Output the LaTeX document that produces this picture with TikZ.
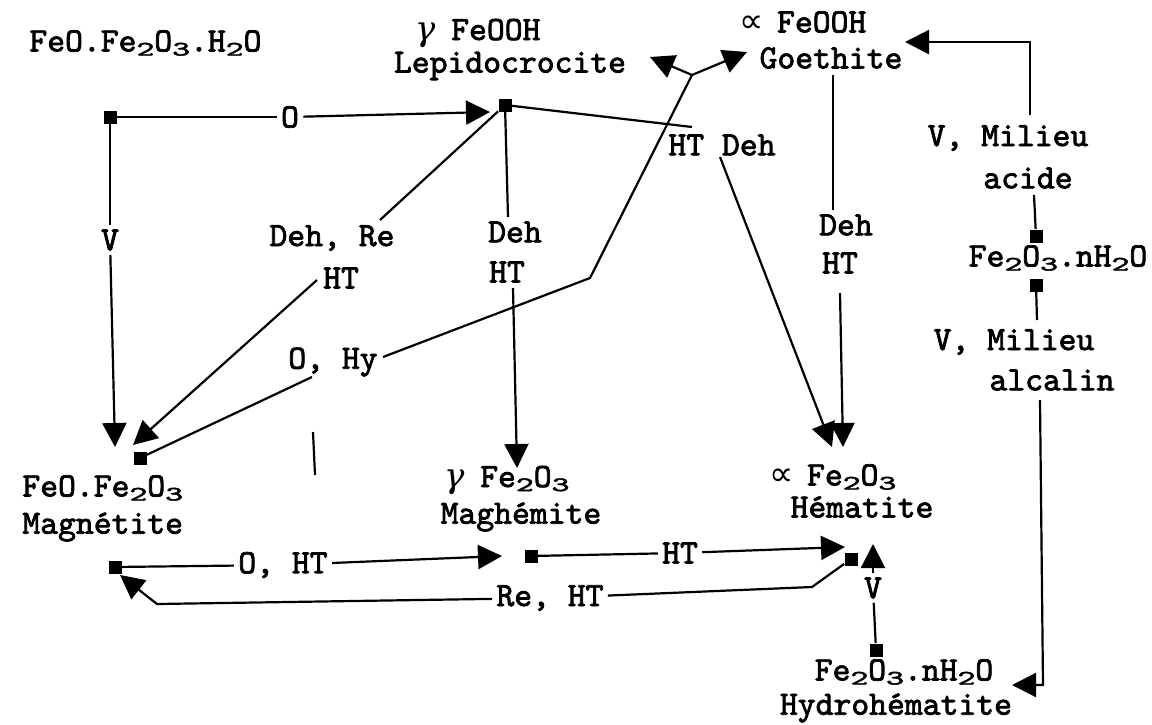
\documentclass[tikz,border=0pt]{standalone}
\usepackage{fontspec}
\usepackage{graphicx}
\newfontfamily\labfont{lmmono10-regular.otf}[FakeBold=2.2]
\newfontfamily\symfont{DejaVu Sans}
\newfontfamily\grkfont{DejaVu Serif}
\usetikzlibrary{arrows.meta,calc}
\newcommand{\dn}[1]{\raisebox{-0.12em}{\scalebox{1}[0.6]{#1}}}
\newcommand{\gam}{\makebox[1.05em][l]{{\grkfont\mdseries\itshape γ}}}
\newcommand{\alp}{\makebox[1.1em][l]{{\symfont\mdseries ∝}}}
\tikzset{
  ln/.style={line width=1.1pt},
  arr/.style={ln,-{Triangle[length=12pt,width=12pt]}},
  sq/.style={fill=black, draw=none, minimum size=6.5pt, inner sep=0pt},
  lab/.style={font=\labfont\bfseries\fontsize{17pt}{20pt}\selectfont, inner sep=2pt},
}
\begin{document}
\begin{tikzpicture}[x=0.5pt,y=-0.5pt]
\fill[white] (0,0) rectangle (1152,724);
\useasboundingbox (0,0) rectangle (1152,724);
% species
\node[lab,anchor=west] (t1) at (25,43) {FeO.Fe\dn{2}O\dn{3}.H\dn{2}O};
\node[lab] (lep1) at (478,33) {\gam FeOOH};
\node[lab] (lep2) at (510,66) {Lepidocrocite};
\node[lab] (goe1) at (803,22) {\alp FeOOH};
\node[lab] (goe2) at (831,58) {Goethite};
\node[lab] (va1) at (1008,138) {V, Milieu};
\node[lab] (va2) at (1028,178) {acide};
\node[lab] (fe1) at (1058,258) {Fe\dn{2}O\dn{3}.nH\dn{2}O};
\node[lab] (vb1) at (1014,342) {V, Milieu};
\node[lab] (vb2) at (1052,380) {alcalin};
\node[lab,anchor=west] (mag1) at (18,488) {FeO.Fe\dn{2}O\dn{3}};
\node[lab,anchor=west] (mag2) at (18,527) {Magnétite};
\node[lab] (mgh1) at (507,480) {\gam Fe\dn{2}O\dn{3}};
\node[lab] (mgh2) at (521,517) {Maghémite};
\node[lab] (hem1) at (833,477) {\alp Fe\dn{2}O\dn{3}};
\node[lab] (hem2) at (862,507) {Hématite};
\node[lab] (hyd1) at (904,672) {Fe\dn{2}O\dn{3}.nH\dn{2}O};
\node[lab] (hyd2) at (896,708) {Hydrohématite};
% connector labels
\node[lab] (eO) at (290,117) {O};
\node[lab] (eV1) at (110,240) {V};
\node[lab] (eDR) at (332,238) {Deh, Re};
\node[lab] (eHT1) at (341,278) {HT};
\node[lab] (eDeh1) at (515,232) {Deh};
\node[lab] (eHT2) at (507,272) {HT};
\node[lab] (eHD) at (722,145) {HT Deh};
\node[lab] (eOHy) at (333,362) {O, Hy};
\node[lab] (eDeh2) at (846,225) {Deh};
\node[lab] (eHT3) at (840,263) {HT};
\node[lab] (eOHT) at (283,565) {O, HT};
\node[lab] (eHT4) at (680,553) {HT};
\node[lab] (eReHT) at (550,598) {Re, HT};
\node[lab] (eV2) at (873,588) {V};
% squares
\node[sq] (s1) at (110,117) {};
\node[sq] (sL) at (505,105) {};
\node[sq] (sM) at (140,458) {};
\node[sq] (sF1) at (1036,236) {};
\node[sq] (sF2) at (1036,285) {};
\node[sq] (sMag) at (115,567) {};
\node[sq] (sMgh) at (531,556) {};
\node[sq] (sHem) at (851,559) {};
\node[sq] (sHyd) at (876,650) {};
% tips
\coordinate (tLep) at (490,112);
\coordinate (tMagV) at (115,447);
\coordinate (tMagD) at (133,445);
\coordinate (tMgh) at (517,468);
\coordinate (tHem1) at (832,447);
\coordinate (tHem2) at (843,447);
\coordinate (fork) at (692,75);
\coordinate (tF1) at (650,57);
\coordinate (tF2) at (747,52);
\coordinate (tGoe) at (905,42);
\coordinate (tHyd) at (1012,685);
\coordinate (tMgh2) at (502,556);
\coordinate (tHem3) at (845,547);
\coordinate (tMag3) at (120,575);
\coordinate (tHem4) at (873,544);
% bends
\coordinate (bA1) at (380,220);
\coordinate (bA2) at (317,280);
\coordinate (bD1) at (508,217);
\coordinate (bD2) at (513,288);
\coordinate (bE1) at (692,127);
\coordinate (bE2) at (720,157);
\coordinate (bF1) at (312,377);
\coordinate (bF2) at (383,357);
\coordinate (bF3) at (590,278);
\coordinate (bG1) at (833,75);
\coordinate (bG2) at (833,210);
\coordinate (bG3) at (840,293);
\coordinate (bH1) at (1030,115);
\coordinate (bH2) at (1030,42);
\coordinate (bH3) at (1034,195);
\coordinate (bI1) at (1037,320);
\coordinate (bI2) at (1040,400);
\coordinate (bI3) at (1043,685);
\coordinate (bL1) at (812,587);
\coordinate (bL2) at (157,604);
% connectors
\draw[ln] (s1) -- (eO);
\draw[arr] (eO) -- (tLep);
\draw[ln] (s1) -- (eV1);
\draw[arr] (eV1) -- (tMagV);
\draw[ln] (sL) -- (bA1);
\draw[arr] (bA2) -- (tMagD);
\draw[ln] (sL) -- (bD1);
\draw[arr] (bD2) -- (tMgh);
\draw[ln] (sL) -- (bE1);
\draw[arr] (bE2) -- (tHem1);
\draw[ln] (sM) -- (bF1);
\draw[ln] (bF2) -- (bF3) -- (fork);
\draw[arr] (fork) -- (tF1);
\draw[arr] (fork) -- (tF2);
\draw[ln] (bG1) -- (bG2);
\draw[arr] (bG3) -- (tHem2);
\draw[ln] (sF1) -- (bH3);
\draw[arr] (bH1) -- (bH2) -- (tGoe);
\draw[ln] (sF2) -- (bI1);
\draw[arr] (bI2) -- (bI3) -- (tHyd);
\draw[ln] (sMag) -- (eOHT);
\draw[arr] (eOHT) -- (tMgh2);
\draw[ln] (sMgh) -- (eHT4);
\draw[arr] (eHT4) -- (tHem3);
\draw[ln] (sHem) -- (bL1) -- (eReHT);
\draw[arr] (eReHT) -- (bL2) -- (tMag3);
\draw[ln] (sHyd) -- (eV2);
\draw[arr] (eV2) -- (tHem4);
\draw[ln] (313,432) -- (315,475);
\end{tikzpicture}
\end{document}
